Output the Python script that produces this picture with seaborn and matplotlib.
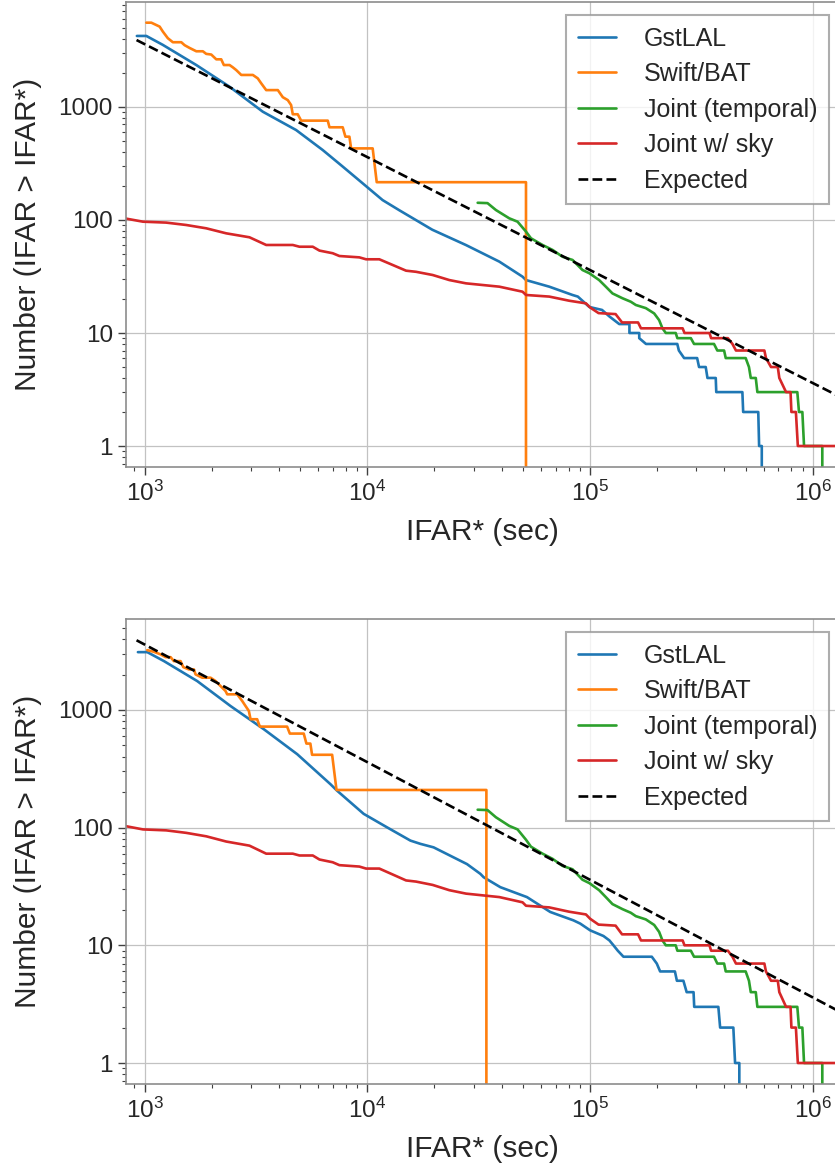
import numpy as np
import pandas as pd
import matplotlib
matplotlib.use("Agg")
import matplotlib.pyplot as plt
import seaborn as sns
from matplotlib.ticker import LogLocator, NullFormatter, FixedLocator, FixedFormatter

# ---------------- data ----------------
labels = ["GstLAL", "Swift/BAT", "Joint (temporal)", "Joint w/ sky", "Expected"]
colors = ["#1f77b4", "#ff7f0e", "#2ca02c", "#d62728", "black"]

gst_top_x = [923, 1018, 1208, 1706, 2406, 3392, 4786, 6300, 7745, 9525, 11700, 13900,
             19550, 27700, 39100, 49700, 51500, 65500, 83300, 88000, 99100, 113000,
             122000, 135000, 150000, 150000, 166000, 166000, 178000, 246000, 250000,
             264000, 302000, 308000, 330000, 336000, 366000, 368000, 482000, 486000,
             568000, 573000, 589000, 589000]
gst_top_n = [4250, 4250, 3540, 2350, 1510, 908, 625, 416, 297, 211, 150, 122,
             82, 60, 42.8, 31.5, 29.4, 25.7, 21.7, 21, 17, 16,
             14, 12, 12, 10, 10, 9, 8, 8, 7,
             6, 6, 5, 5, 4, 4, 3, 3, 2,
             2, 1, 1, 0]

gst_bot_x = [933, 1028, 1222, 1722, 2430, 3428, 4840, 6825, 7310, 9620, 12250, 15600,
             17300, 19820, 27990, 32130, 33250, 39500, 52000, 66200, 73300, 84100,
             90200, 100000, 114700, 122000, 127200, 133000, 141000, 189000, 199000,
             206000, 240000, 245000, 262000, 271000, 291000, 293000, 376000, 383000,
             439000, 447000, 467000, 467000]
gst_bot_n = [3100, 3100, 2600, 1760, 1080, 686, 421, 234, 206, 131, 100.6, 77.6,
             72.8, 68, 49, 40.5, 37.9, 31.2, 25.7, 19.2, 17.9, 16.3,
             15.3, 13.4, 12, 11, 10, 9, 8, 8, 7,
             6, 6, 5, 5, 4, 4, 3, 3, 2,
             2, 1, 1, 0]

swift_top_x = [1018, 1072, 1168, 1208, 1271, 1339, 1461, 1512, 1591, 1706, 1826, 1890,
               1991, 2097, 2207, 2268, 2406, 2490, 2578, 2715, 3061, 3221, 3336, 3513,
               3962, 4171, 4391, 4545, 4624, 4866, 5043, 6637, 6757, 7748, 7966, 8303,
               8451, 10560, 11010, 51500, 51500]
swift_top_n = [5570, 5570, 5140, 4640, 4060, 3740, 3740, 3520, 3330, 3110, 3110, 2950,
               2910, 2640, 2640, 2350, 2350, 2240, 2120, 1920, 1920, 1790, 1620, 1410,
               1410, 1220, 1150, 1040, 862, 862, 757, 757, 661, 661, 546, 546,
               430, 430, 216, 216, 0]

swift_bot_x = [1028, 1101, 1180, 1242, 1308, 1353, 1450, 1491, 1580, 1664, 1693, 1814,
               1977, 2081, 2191, 2307, 2348, 2604, 2742, 2838, 2937, 2988, 3200, 3289,
               4361, 4485, 5179, 5324, 5546, 5644, 6946, 7265, 34200, 34200]
swift_bot_n = [3225, 3120, 2965, 2810, 2810, 2600, 2600, 2313, 2211, 2211, 2005, 1880,
               1880, 1762, 1597, 1449, 1358, 1358, 1192, 1080, 981, 834, 834, 722,
               722, 630, 630, 518, 518, 416, 416, 209, 209, 0]

joint_x = [31250, 34600, 37740, 43310, 47200, 51500, 54200, 61100, 67800, 75100, 83300,
           92300, 99100, 109700, 117500, 125900, 139600, 152200, 160200, 177700, 193700,
           203900, 211000, 218500, 242000, 246200, 283000, 292500, 359500, 372000,
           399000, 405800, 498700, 516000, 525700, 553600, 562800, 850500, 865300,
           895900, 911600, 1101000, 1101000]
joint_n = [142, 141, 122.5, 103.5, 96.6, 78.9, 68.9, 60.1, 54.3, 47.3, 44.3,
           36.1, 33.8, 29.4, 25.7, 22.4, 20.3, 18.9, 17.7, 16.6, 14.9,
           13.0, 11.0, 10, 10, 9, 9, 8, 8, 7,
           7, 6, 6, 5, 4, 4, 3, 3, 2,
           2, 1, 1, 0]

sky_x = [800, 983, 1250, 1537, 1891, 2324, 2955, 3513, 4624, 4955, 5686, 6093, 6986,
         7486, 9201, 9860, 11310, 12980, 14910, 16530, 19630, 23330, 27720, 39100,
         49700, 51500, 65500, 80500, 95700, 100000, 109000, 130000, 139000, 164000,
         169000, 260000, 265000, 343000, 349000, 415000, 435000, 451000, 605000,
         615000, 648000, 695000, 706000, 757000, 793000, 800000, 838000, 855000, 2000000]
sky_n = [104, 96.6, 94.8, 90.3, 84.4, 76.2, 70.3, 60.1, 60.1, 58, 58, 53.6, 50.8,
         48, 46.7, 44.9, 44.9, 40, 35.6, 34.8, 32.6, 29.4, 27.5, 25.7,
         23.2, 21.7, 21, 19.3, 18.3, 16.8, 15, 14.7, 12.4, 12.4,
         11, 11, 10, 10, 9, 9, 8, 7, 7,
         6, 5, 5, 4, 3, 3, 2, 2, 1, 1]

expected_x = [920, 2000000]
expected_n = [3910, 1.8]

x_label = "IFAR* (sec)"
y_label = "Number (IFAR > IFAR*)"
y_ticks = [1, 10, 100, 1000]
y_ticklabels = ["1", "10", "100", "1000"]

panels = [
    dict(gst=(gst_top_x, gst_top_n), swift=(swift_top_x, swift_top_n),
         ylim=(0.652, 8490), rect=[0.1509, 0.6005, 0.8527, 0.3978]),
    dict(gst=(gst_bot_x, gst_bot_n), swift=(swift_bot_x, swift_bot_n),
         ylim=(0.663, 5930), rect=[0.1509, 0.0727, 0.8527, 0.3978]),
]

# ---------------- style ----------------
sns.set_theme(style="whitegrid")
plt.rcParams.update({
    "font.family": ["Liberation Sans", "DejaVu Sans"],
    "mathtext.fontset": "custom",
    "mathtext.rm": "Liberation Sans",
    "mathtext.it": "Liberation Sans:italic",
    "mathtext.bf": "Liberation Sans:bold",
    "axes.edgecolor": "0.55",
    "axes.linewidth": 1.2,
    "grid.color": "0.76",
    "grid.linewidth": 0.9,
    "xtick.bottom": True,
    "ytick.left": True,
})

fig = plt.figure(figsize=(8.35, 11.69), dpi=100)

for p in panels:
    ax = fig.add_axes(p["rect"])
    series = [p["gst"], p["swift"], (joint_x, joint_n), (sky_x, sky_n)]
    for (xs, ns), lab, col in zip(series, labels[:4], colors[:4]):
        df = pd.DataFrame({"ifar": xs, "n": ns})
        sns.lineplot(data=df, x="ifar", y="n", sort=False, estimator=None,
                     color=col, lw=1.9, label=lab, ax=ax, legend=False)
    df = pd.DataFrame({"ifar": expected_x, "n": expected_n})
    sns.lineplot(data=df, x="ifar", y="n", sort=False, estimator=None,
                 color="black", lw=1.9, ls="--", label=labels[4], ax=ax, legend=False)

    ax.set_xscale("log")
    ax.set_yscale("log")
    ax.set_xlim(825, 1.295e6)
    ax.set_ylim(*p["ylim"])

    ax.yaxis.set_major_locator(FixedLocator(y_ticks))
    ax.yaxis.set_major_formatter(FixedFormatter(y_ticklabels))
    ax.yaxis.set_minor_locator(LogLocator(base=10, subs=np.arange(2, 10), numticks=20))
    ax.yaxis.set_minor_formatter(NullFormatter())
    ax.xaxis.set_major_locator(LogLocator(base=10, numticks=20))
    ax.xaxis.set_minor_locator(LogLocator(base=10, subs=np.arange(2, 10), numticks=20))
    ax.xaxis.set_minor_formatter(NullFormatter())

    ax.tick_params(which="major", direction="out", length=5.5, width=1.0,
                   color="0.25", labelsize=17.5, pad=4)
    ax.tick_params(which="minor", direction="out", length=3, width=0.8, color="0.25")
    ax.grid(True, which="major")
    ax.grid(False, which="minor")

    ax.set_xlabel(x_label, fontsize=21.5, labelpad=9)
    ax.set_ylabel(y_label, fontsize=21.5, labelpad=12)

    leg = ax.legend(loc="upper right", bbox_to_anchor=(0.987, 0.971), borderaxespad=0,
                    fontsize=18, handlelength=1.55, handletextpad=1.1,
                    labelspacing=0.46, borderpad=0.45, fancybox=False,
                    framealpha=0.8, edgecolor="0.6")
    leg.get_frame().set_linewidth(1.5)

fig.savefig("out.png", dpi=100)
